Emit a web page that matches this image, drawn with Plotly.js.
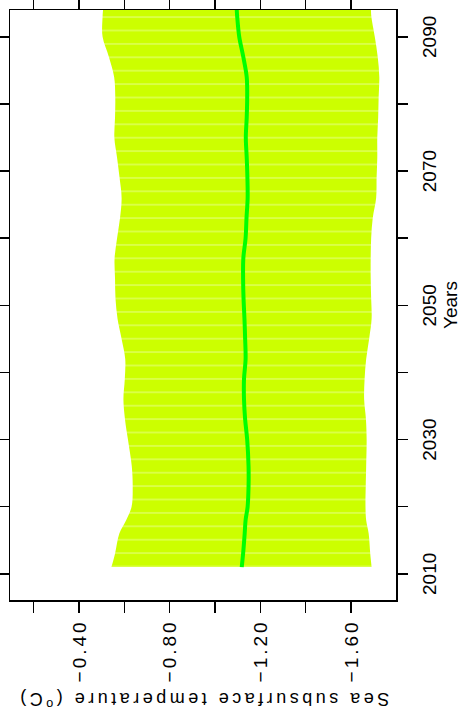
<!DOCTYPE html>
<html>
<head>
<meta charset="utf-8">
<script src="https://cdn.plot.ly/plotly-3.0.1.min.js"></script>
<style>
  html, body { margin: 0; padding: 0; background: #fff; overflow: hidden; }
  #wrap { position: absolute; left: 0; top: 0; width: 716px; height: 461px;
          transform-origin: 0 0; transform: translateY(716px) rotate(-90deg); }
  #chart { width: 716px; height: 461px; }
  .ytitle { letter-spacing: 3.5px; }
  .ytick text { letter-spacing: 3px; }
</style>
</head>
<body>
<div id="wrap"><div id="chart"></div></div>
<script>
// Years of the series
const years = [2011, 2013, 2016, 2018, 2020, 2023, 2026, 2030, 2033, 2036, 2039, 2042, 2045, 2048,
               2051, 2054, 2057, 2060, 2063, 2066, 2069, 2072, 2075, 2078, 2081, 2084, 2087, 2090, 2093, 2094];
// Upper bound of the spread (warmest)
const upperTemp = [-0.543, -0.559, -0.578, -0.608, -0.632, -0.637, -0.633, -0.616, -0.603, -0.596, -0.602, -0.604, -0.588, -0.570,
                   -0.561, -0.559, -0.557, -0.568, -0.581, -0.588, -0.579, -0.568, -0.556, -0.559, -0.560, -0.555, -0.532, -0.504, -0.504, -0.506];
// Lower bound of the spread (coldest)
const lowerTemp = [-1.691, -1.685, -1.678, -1.667, -1.664, -1.665, -1.667, -1.669, -1.666, -1.658, -1.660, -1.667, -1.680, -1.691,
                   -1.689, -1.687, -1.687, -1.689, -1.696, -1.711, -1.713, -1.716, -1.716, -1.720, -1.722, -1.725, -1.718, -1.705, -1.690, -1.688];
// Ensemble mean
const meanTemp = [-1.118, -1.124, -1.131, -1.135, -1.144, -1.148, -1.148, -1.142, -1.133, -1.128, -1.128, -1.135, -1.133, -1.130,
                  -1.126, -1.124, -1.125, -1.135, -1.139, -1.144, -1.143, -1.140, -1.136, -1.140, -1.142, -1.140, -1.125, -1.107, -1.098, -1.096];

// Axis ticks
const yearTicks = [2010, 2020, 2030, 2040, 2050, 2060, 2070, 2080, 2090];
const yearTickText = ['2010', ' ', '2030', ' ', '2050', ' ', '2070', ' ', '2090'];
const tempTicks = [-1.6, -1.4, -1.2, -1.0, -0.8, -0.6, -0.4, -0.2];
const tempTickText = ['\u22121.60', ' ', '\u22121.20', ' ', '\u22120.80', ' ', '\u22120.40', ' '];

const FONT = 'Liberation Sans Narrow, Liberation Sans, Arial, sans-serif';
const BAND = '#ccff00';

const traces = [
  { x: years, y: lowerTemp, type: 'scatter', mode: 'lines',
    line: { width: 0, shape: 'spline', color: BAND }, hoverinfo: 'skip', showlegend: false },
  { x: years, y: upperTemp, type: 'scatter', mode: 'lines', fill: 'tonexty',
    fillcolor: BAND,
    fillpattern: { shape: '|', size: 13.4, solidity: 0.08, fgcolor: 'rgba(255,255,255,0.5)', bgcolor: BAND, fillmode: 'replace' },
    line: { width: 0, shape: 'spline', color: BAND }, hoverinfo: 'skip', showlegend: false },
  { x: years, y: meanTemp, type: 'scatter', mode: 'lines',
    line: { width: 4, shape: 'spline', color: '#00ff00' }, showlegend: false }
];

const axisCommon = {
  showgrid: false, zeroline: false, showline: true, linecolor: '#000', linewidth: 1.5,
  mirror: 'ticks', ticks: 'outside', tickcolor: '#000', tickwidth: 1.5,
  tickfont: { family: FONT, size: 19, color: '#000' }
};

const layout = {
  width: 716, height: 461,
  margin: { l: 116, r: 10, t: 10, b: 65 },
  paper_bgcolor: '#fff', plot_bgcolor: '#fff',
  xaxis: Object.assign({}, axisCommon, {
    range: [2006.1, 2094.0], tickmode: 'array', tickvals: yearTicks, ticktext: yearTickText,
    ticklen: 10, ticklabelstandoff: 6,
    title: { text: 'Years', font: { family: FONT, size: 19, color: '#000' }, standoff: 3 }
  }),
  yaxis: Object.assign({}, axisCommon, {
    range: [-1.7986, -0.0956], tickmode: 'array', tickvals: tempTicks, ticktext: tempTickText,
    ticklen: 11, ticklabelstandoff: 3,
    title: { text: 'Sea subsurface temperature (<sup>o</sup>C)', font: { family: FONT, size: 18, color: '#000' }, standoff: 5 }
  })
};

Plotly.newPlot('chart', traces, layout, { staticPlot: true, displayModeBar: false });
</script>
</body>
</html>
